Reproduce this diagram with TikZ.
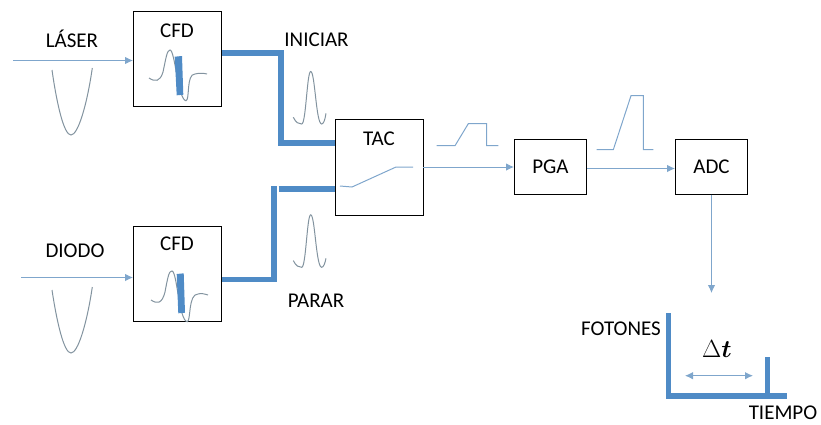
\documentclass[tikz,border=0pt]{standalone}
\usepackage{amsmath}
\usepackage{bm}
\usepackage{fontspec}
\setmainfont{Carlito}
\definecolor{barblue}{HTML}{4F8BC6}
\definecolor{wireblue}{HTML}{7FA6CC}
\definecolor{pulsegray}{HTML}{82939F}
\usetikzlibrary{arrows.meta,positioning,calc}
\tikzset{
  blk/.style     = {draw=black,line width=0.9pt,inner sep=0pt,align=center,font=\fontsize{21}{24}\selectfont},
  lbl/.style     = {inner sep=0pt,font=\fontsize{21}{24}\selectfont},
  sig/.style     = {-{Latex[length=8pt,width=7.5pt]},draw=wireblue,line width=1pt},
  bus/.style     = {draw=barblue,line width=5.2pt,miter limit=10},
  pulse/.style   = {draw=pulsegray,line width=1pt},
  edgebar/.style = {fill=barblue,draw=none},
}
\begin{document}
\begin{tikzpicture}[x=1pt,y=-1pt]
    \useasboundingbox (0,0) rectangle (821,424);
    % boxes
    \node[blk,minimum width=88pt,minimum height=95pt] (cfdl) at (177.5,59) {};
    \node[blk,minimum width=88pt,minimum height=95pt] (cfdd) at (177.5,273.5) {};
    \node[blk,minimum width=88pt,minimum height=96pt] (tac) at (379,167) {};
    \node[blk,minimum width=72pt,minimum height=54.5pt] (pga) at (550.5,167) {PGA};
    \node[blk,minimum width=72pt,minimum height=54.5pt] (adc) at (711.5,167) {ADC};
    % labels
    \node[lbl] (laser) at (72,39) {LÁSER};
    \node[lbl] (diodo) at (75,251) {DIODO};
    \node[lbl] (cfdltxt) at (177,31) {CFD};
    \node[lbl] (cfddtxt) at (177,244) {CFD};
    \node[lbl] (tactxt) at (379,139) {TAC};
    \node[lbl] (iniciar) at (316.5,40) {INICIAR};
    \node[lbl] (parar) at (316,301) {PARAR};
    \node[lbl] (fotones) at (621,329) {FOTONES};
    \node[lbl] (tiempo) at (783,412.5) {TIEMPO};
    \node[lbl,font=\fontsize{24}{28}\selectfont] (dt) at (717,349) {$\Delta\bm{t}$};
    % thin wires
    \coordinate (inl) at (13,60.5);
    \coordinate (ind) at (21,277.5);
    \coordinate (hist) at (711.5,293);
    \draw[sig] (inl) -- (inl -| cfdl.west);
    \draw[sig] (ind) -- (ind -| cfdd.west);
    \draw[sig] (tac.east) -- (pga.west);
    \draw[sig] ($(pga.east)+(0,1.5)$) -- ($(adc.west)+(0,1.5)$);
    \draw[sig] (adc.south) -- (hist);
    % thick wires
    \coordinate (cl) at ($(cfdl.east)+(0,-6)$);
    \coordinate (cd) at ($(cfdd.east)+(0,6)$);
    \coordinate (tu) at ($(tac.west)+(0,-24)$);
    \coordinate (td) at ($(tac.west)+(0,22)$);
    \draw[bus] (cl) -- (281,53) -- (281,143) -- (tu);
    \draw[bus] (cd) -- (274,279.5) -- (274,186);
    \draw[bus] (278.5,189) -- (td);
    % switch inside TAC
    \draw[pulse,draw=wireblue] (340,186) -- (352,187) -- (396,167) -- (413,167);
    % input pulses
    \foreach \y/\ya/\yb in {70/135/68,290/353/287}{
      \draw[pulse] (52,\y) .. controls (57,{\ya-30}) and (64,\ya) .. (71,\ya)
                   .. controls (78,\ya) and (87,{\ya-30}) .. (92.3,\yb);
    }
    % CFD pulses
    \draw[pulse] (149,78) .. controls (155,82) and (160,82) .. (163,72)
                 .. controls (166,58) and (167,50) .. (170,50)
                 .. controls (175,50) and (178,100) .. (186,100.7)
                 .. controls (190,100) and (186,74) .. (195,74)
                 .. controls (199,73) and (203,73) .. (207,74);
    \fill[edgebar] (174.7,56.7) -- (182,56) -- (183.3,94.7) -- (176.7,95.3) -- cycle;
    \draw[pulse] (151,300) .. controls (157,304) and (162,304) .. (165,292)
                 .. controls (168,276) and (169,271) .. (172,271)
                 .. controls (177,271) and (179,321) .. (187.3,321.7)
                 .. controls (191,321) and (188,294) .. (198,294)
                 .. controls (201,293) and (205,294) .. (208,295);
    \fill[edgebar] (176.7,274) -- (183.7,273.3) -- (185,312.7) -- (178.3,313.3) -- cycle;
    % gaussians
    \foreach \y/\s in {124/113.3,267.3/258.3}{
      \draw[pulse] (293.3,{\y-6.7}) .. controls (296,{\y-1}) and (299,\y) .. (301.7,\y)
                   .. controls (306,\y) and (307,{\y-52.5}) .. (310.7,{\y-52.5})
                   .. controls (315,{\y-52.5}) and (316,\y) .. (321.7,\y)
                   .. controls (323.5,\y) and (325,{\y-4}) .. (326,\s);
    }
    % trapezoids
    \draw[pulse,draw=wireblue] (436.7,145.7) -- (455,145.7) -- (468.3,123.7) -- (486.7,123.7)
          -- (486.7,145.7) -- (498.3,145.7);
    \draw[pulse,draw=wireblue] (596.7,149.7) -- (613.3,149.7) -- (631,95.7) -- (643.3,95.7)
          -- (643.3,149.7) -- (653.3,149.7);
    % histogram
    \fill[edgebar] (666.3,312.7) rectangle (671,398.7);
    \fill[edgebar] (764.7,357) rectangle (769.7,394);
    \fill[edgebar] (666.3,393.3) rectangle (787,398.7);
    \coordinate (dta) at (685,375.7);
    \coordinate (dtb) at (753,375.7);
    \draw[sig,{Latex[length=8pt,width=7.5pt]}-{Latex[length=8pt,width=7.5pt]}] (dta) -- (dtb);
\end{tikzpicture}
\end{document}
